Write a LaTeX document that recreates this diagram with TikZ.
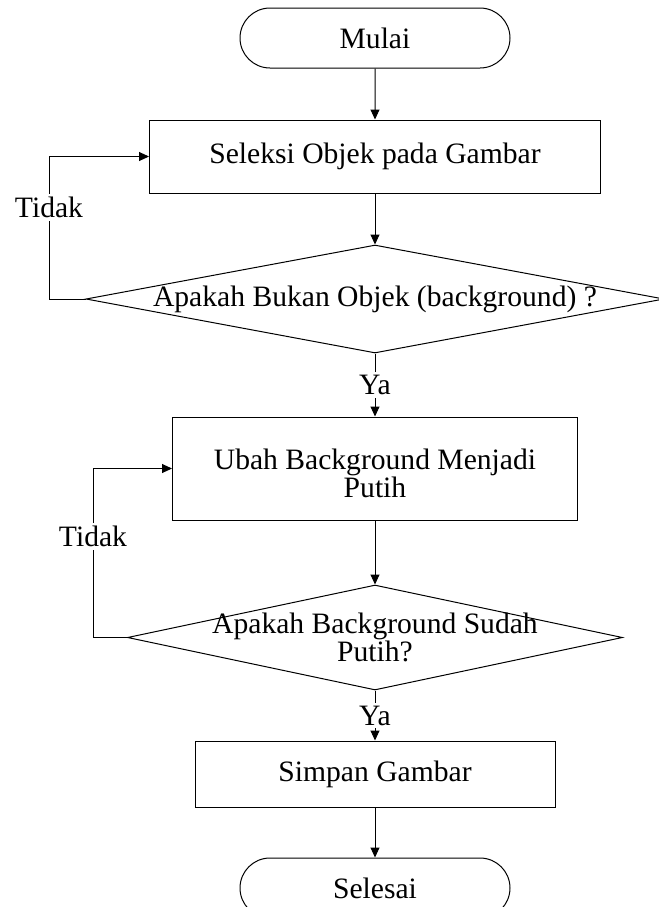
\documentclass[tikz,border=0pt]{standalone}
\usepackage{fontspec}
\setmainfont{Liberation Serif}
\usetikzlibrary{shapes.geometric,shapes.misc,arrows.meta}

\begin{document}
\begin{tikzpicture}[x=0.5pt, y=-0.5pt, >={Triangle[length=5pt,width=4.5pt]},
  line width=0.5pt, font=\fontsize{14.8}{14}\selectfont,
  terminal/.style={draw, rounded rectangle, minimum width=135pt, minimum height=30pt, inner sep=0pt},
  process/.style={draw, rectangle, inner sep=0pt, align=center},
  decision/.style={draw, diamond, inner sep=0pt},
  answer/.style={fill=white, inner sep=1.5pt}]
  \useasboundingbox (0,0) rectangle (659,907);
  \clip (0,0) rectangle (659,907);

  % Start
  \node[terminal] (mulai) at (375,38) {Mulai};

  % Select object
  \node[process, minimum width=225.5pt, minimum height=36.5pt] (seleksi) at (375,156.5) {Seleksi Objek pada Gambar};

  % First decision
  \node[decision, minimum width=289pt, minimum height=54pt,
        label={center:Apakah Bukan Objek (background) ?}] (cekobjek) at (375,299) {};

  % Change background
  \node[process, minimum width=202.5pt, minimum height=51.5pt] (ubah) at (375,468.5) {};
  \node[align=center] (ubahtext) at (375,473) {Ubah Background Menjadi\\Putih};

  % Second decision
  \node[decision, minimum width=247.5pt, minimum height=52.5pt,
        label={[align=center]center:Apakah Background Sudah\\Putih?}] (cekputih) at (375,637.5) {};

  % Save image
  \node[process, minimum width=180pt, minimum height=33pt] (simpan) at (375,774) {Simpan Gambar};

  % End
  \node[terminal] (selesai) at (375,888) {Selesai};

  % Main flow
  \draw[->] (mulai) -- (seleksi);
  \draw[->] (seleksi) -- (cekobjek);
  \draw[->] (cekobjek) -- node[answer] {Ya} (ubah);
  \draw[->] (ubah) -- (cekputih);
  \draw[->] (cekputih) -- node[answer] {Ya} (simpan);
  \draw[->] (simpan) -- (selesai);

  % Loops back
  \coordinate (balik1) at (49,299);
  \coordinate (balik2) at (93,637.5);
  \draw[->] (cekobjek.west) -- (balik1) |- node[answer, pos=0.32] {Tidak} (seleksi.west);
  \draw[->] (cekputih.west) -- (balik2) |- node[answer, pos=0.3] {Tidak} (ubah.west);
\end{tikzpicture}
\end{document}
